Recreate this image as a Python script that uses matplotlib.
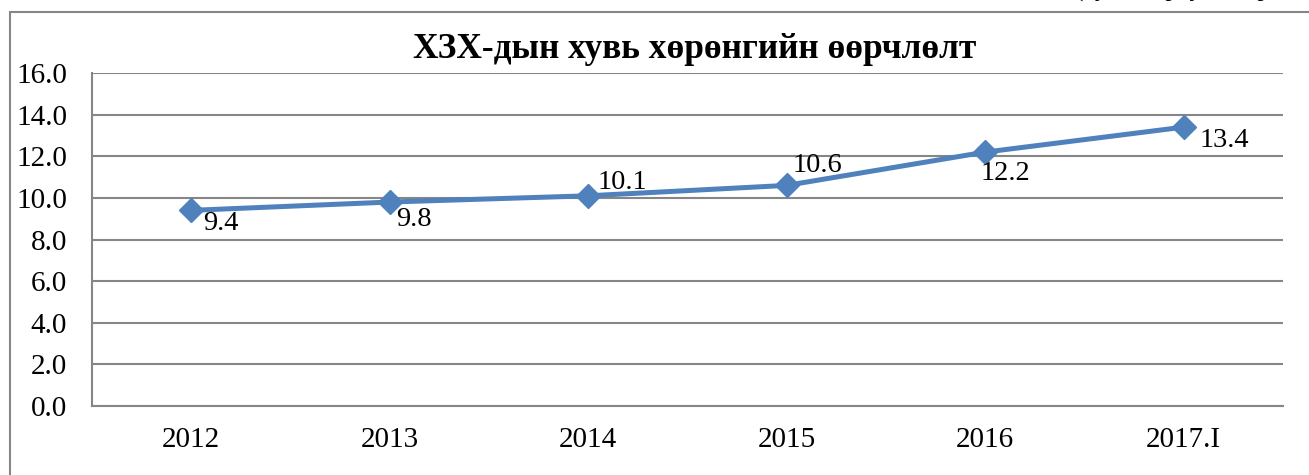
import numpy as np
import matplotlib.pyplot as plt
from matplotlib.patches import Rectangle

# data
years = ["2012", "2013", "2014", "2015", "2016", "2017.I"]
values = [9.4, 9.8, 10.1, 10.6, 12.2, 13.4]
# label offsets (pixels) relative to each marker
label_dx = [12, 6, 9, 6, -5, 16]
label_dy = [-13, -17, 13, 20, -21, -13]

title = "ХЗХ-дын хувь хөрөнгийн өөрчлөлт"
note = "(хувь, тэрбум төгрөгөөр)"

W, H = 1309, 475


def main():
    plt.rcParams["font.family"] = ["Liberation Serif", "DejaVu Serif"]
    fig = plt.figure(figsize=(W / 100, H / 100), dpi=100)

    # outer chart frame (runs past the right and bottom edge)
    fig.patches.append(Rectangle((10 / W, -0.1), 1.2, 1 - 12 / H + 0.1,
                                 transform=fig.transFigure, fill=False,
                                 edgecolor="#868686", linewidth=1.5))
    # cut-off note above the frame
    fig.text(1075 / W, 1 + 4 / H, note, fontsize=18, ha="left", va="baseline")

    ax = fig.add_axes([92 / W, 1 - 406 / H, (1283 - 92) / W, (406 - 73) / H])
    x = np.arange(len(years))
    ax.plot(x, values, color="#4F81BD", linewidth=3.6, marker="D",
            markersize=12, zorder=3)
    for xi, v, dx, dy in zip(x, values, label_dx, label_dy):
        ax.annotate(f"{v:.1f}", (xi, v), xytext=(dx, dy),
                    textcoords="offset pixels", fontsize=20.5,
                    ha="left", va="center")

    ax.set_xlim(-0.5, len(years) - 0.5)
    ax.set_ylim(0, 16)
    ax.set_yticks(np.arange(0, 16.1, 2))
    ax.set_yticklabels([f"{t:.1f}" for t in np.arange(0, 16.1, 2)])
    ax.set_xticks(x)
    ax.set_xticklabels(years)
    ax.tick_params(axis="both", length=0, labelsize=21)
    ax.tick_params(axis="y", pad=18)
    ax.tick_params(axis="x", pad=15)
    ax.grid(axis="y", color="#868686", linewidth=1.5)
    ax.set_axisbelow(True)
    for side in ["right", "top"]:
        ax.spines[side].set_visible(False)
    for side in ["left", "bottom"]:
        ax.spines[side].set_color("#868686")
        ax.spines[side].set_linewidth(1.5)

    fig.text(695 / W, 1 - 50 / H, title, fontsize=25.5, fontweight="bold",
             ha="center", va="center")

    fig.savefig("out.png", dpi=100)


if __name__ == "__main__":
    main()
